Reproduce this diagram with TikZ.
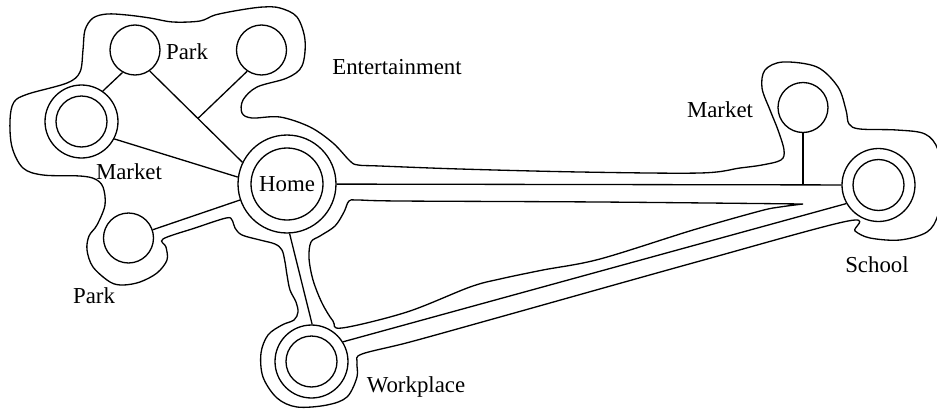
\documentclass[tikz,border=0pt]{standalone}
\usepackage{fontspec}
\setmainfont{Liberation Serif}
\usetikzlibrary{calc}
\tikzset{
  spot/.style={circle, draw, minimum size=1cm, inner sep=0pt},
  hub/.style={circle, draw, minimum size=1.46cm, inner sep=0pt,
              path picture={\draw (path picture bounding box.center) circle[radius=0.51cm];}},
  homebox/.style={circle, draw, minimum size=1.96cm, inner sep=0pt, font=\fontsize{13}{15}\selectfont,
              path picture={\draw (path picture bounding box.center) circle[radius=0.72cm];}},
  tag/.style={font=\fontsize{13}{15}\selectfont, inner sep=0pt},
  link/.style={line width=0.75pt},
  blob/.style={line width=0.75pt, smooth cycle, tension=0.55},
  hole/.style={line width=0.75pt, smooth, tension=0.55},
}

\begin{document}
\begin{tikzpicture}[x=0.02cm, y=-0.02cm, line width=0.75pt]
    \useasboundingbox (0,0) rectangle (937,410);
    % places
    \node[spot] (p1) at (135,50)      {};
    \node[spot] (e1) at (261.5,50)    {};
    \node[hub]  (m1) at (81.5,121.5)  {};
    \node[homebox] (h) at (287,184)   {Home};
    \node[spot] (p2) at (128.5,238)   {};
    \node[hub]  (w)  at (311.5,361.5) {};
    \node[spot] (m2) at (803,107.5)   {};
    \node[hub]  (s)  at (878.5,185)   {};
    % labels
    \node[tag] (lp1) at (187,52)  {Park};
    \node[tag] (le)  at (397,67)  {Entertainment};
    \node[tag] (lm1) at (129,172) {Market};
    \node[tag] (lp2) at (94,296)  {Park};
    \node[tag] (lw)  at (416,387) {Workplace};
    \node[tag] (lm2) at (720,110) {Market};
    \node[tag] (ls)  at (877,265) {School};
    % connections
    \coordinate (j) at ($(p1.305)!0.52!(h.154)$);
    \coordinate (k) at (m2.south |- s.west);
    \draw[link] (p1.241) -- (m1.55);
    \draw[link] (p1.305) -- (h.154);
    \draw[link] (e1.236) -- (j);
    \draw[link] (m1.332) -- (h.172);
    \draw[link] (p2) -- (h);
    \draw[link] (h.273) -- (w.89);
    \draw[link] (h) -- (s);
    \draw[link] (w.32) -- (s.210);
    \draw[link] (m2.south) -- (k);
    % outer boundary
    \draw[blob] plot coordinates {
      (10,120) (14,102) (28,94) (67,83) (80,72) (83,50) (85,30) (93,18) (107,14) (127,15)
      (150,18) (173,22) (200,21) (215,15) (240,10) (263,7) (280,8) (297,17) (305,40)
      (302,66) (287,78) (257,87) (243,100) (242,113) (252,118) (280,117) (310,127)
      (333,143) (350,161) (358,165) (380,166) (460,169) (580,172) (700,173) (740,168)
      (762,165) (781,160) (784,150) (778,130) (770,110) (762,88) (765,70) (783,62)
      (817,67) (838,87) (846,110) (849,124) (860,129) (897,130) (925,134) (938,150)
      (943,186) (938,215) (927,232) (900,240) (870,238) (855,231) (848,221)
      (700,261) (500,317) (410,342) (362,354) (357,362) (357,377) (347,397) (327,405)
      (297,407) (277,398) (263,377) (261,353) (268,335) (282,325) (294,320) (298,312)
      (296,302) (290,290) (287,275) (285,262) (282,250) (275,244) (260,240) (242,235)
      (235,228) (232,220) (226,218) (195,228) (163,239) (166,247) (167,260) (157,273)
      (140,282) (123,285) (110,282) (93,267) (87,250) (89,236) (97,225) (105,205)
      (103,187) (95,179) (80,176) (43,175) (23,168) (12,147)
    };
    % inner boundary
    \draw[hole] plot coordinates {
      (803,204) (780,207) (760,211) (693,230) (600,259) (543,270) (500,279) (470,287)
      (407,312) (342,328) (333,321) (322,303) (313,280) (309,258) (311,242) (320,236)
      (335,226) (344,212) (349,201) (358,200) (400,201) (600,202) (803,204)
    };
\end{tikzpicture}
\end{document}
